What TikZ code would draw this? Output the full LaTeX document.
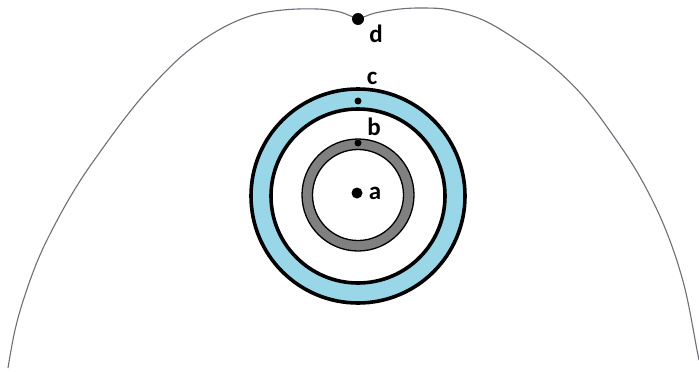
\documentclass[tikz,border=0pt]{standalone}
\usepackage{fontspec}
\setmainfont{Carlito}
\definecolor{ringblue}{RGB}{153,215,232}
\definecolor{ringgray}{RGB}{128,128,128}
\definecolor{curvegray}{RGB}{110,110,120}
\tikzset{
  dotnode/.style={circle,fill=black,inner sep=0pt},
  lbl/.style={inner sep=0pt,font=\fontsize{25}{28}\selectfont\bfseries},
  thickring/.style={draw=black,line width=3.6pt},
  thinring/.style={draw=black,line width=1.3pt}
}
\begin{document}
\begin{tikzpicture}[x=1pt,y=-1pt]
\useasboundingbox[fill=white] (0,0) rectangle (699,372);
% outer curve
\draw[curvegray,line width=1.1pt] plot[smooth,tension=0.6] coordinates {
 (8,368) (15,330) (25,295) (40,255) (60,215) (80,181) (100,152) (125,118)
 (150,88) (183,55) (217,31) (250,16) (283,10) (317,9) (340,12) (358,18)
 (375,13) (400,9) (425,8) (450,10) (483,20) (517,40) (550,64) (583,96)
 (612,134) (640,177) (665,228) (684,285) (697,350) (699,360)};
% blue ring
\fill[ringblue,even odd rule] (358,196) circle (107) (358,196) circle (87);
\draw[thickring] (358,196) circle (107);
\draw[thickring] (358,196) circle (87);
% gray ring
\fill[ringgray,even odd rule] (358,195) circle (56) (358,195) circle (45.5);
\draw[thinring] (358,195) circle (56);
\draw[thinring] (358,195) circle (45.5);
% dots
\node[dotnode,minimum size=11pt] (a) at (357,193) {};
\node[dotnode,minimum size=7pt] (b) at (358,143) {};
\node[dotnode,minimum size=7pt] (c) at (358,101) {};
\node[dotnode,minimum size=12pt] (d) at (358,19) {};
% labels
\node[lbl] (la) at (375,193) {a};
\node[lbl] (lb) at (374,127) {b};
\node[lbl] (lc) at (372,78) {c};
\node[lbl] (ld) at (376,34) {d};
\end{tikzpicture}
\end{document}
